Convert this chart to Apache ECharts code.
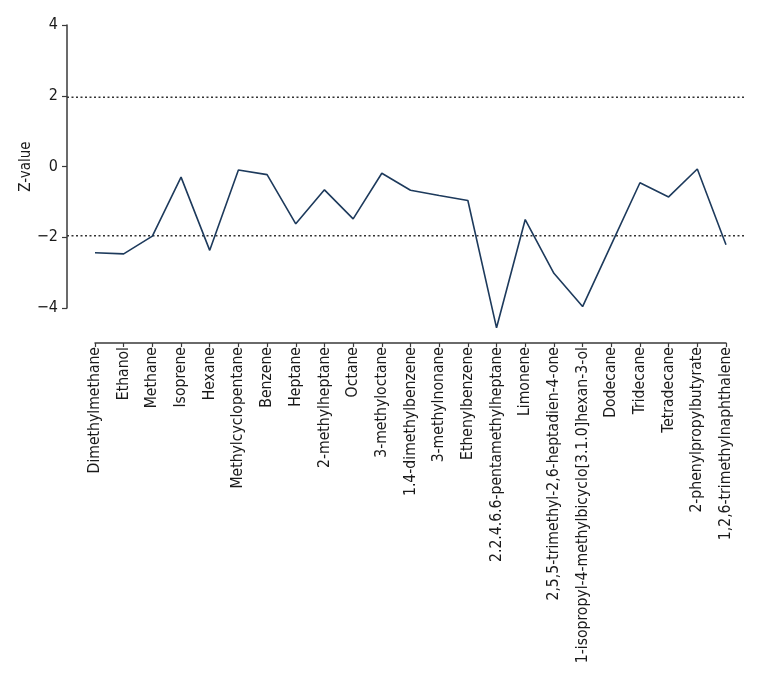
<!DOCTYPE html>
<html>
<head>
<meta charset="utf-8">
<script src="https://cdn.jsdelivr.net/npm/echarts@6/dist/echarts.min.js"></script>
<style>html,body{margin:0;padding:0;background:#fff}#c{width:760px;height:680px}</style>
</head>
<body>
<div id="c"></div>
<script>
const categories = ["Dimethylmethane","Ethanol","Methane","Isoprene","Hexane","Methylcyclopentane","Benzene","Heptane","2-methylheptane","Octane","3-methyloctane","1.4-dimethylbenzene","3-methylnonane","Ethenylbenzene","2.2.4.6.6-pentamethylheptane","Limonene","2,5,5-trimethyl-2,6-heptadien-4-one","1-isopropyl-4-methylbicyclo[3.1.0]hexan-3-ol","Dodecane","Tridecane","Tetradecane","2-phenylpropylbutyrate","1,2,6-trimethylnaphthalene"];
const zValues = [-2.44,-2.47,-1.97,-0.30,-2.37,-0.10,-0.23,-1.62,-0.66,-1.48,-0.19,-0.67,-0.82,-0.96,-4.56,-1.50,-3.02,-3.96,-2.21,-0.46,-0.86,-0.07,-2.21];
const thresholds = [1.96,-1.96];
const yTicks = {min:-4,max:4,interval:2};

const FONT = '"DejaVu Sans Condensed","Liberation Sans Narrow",sans-serif';
const axisColor = '#3a3a3a';
const chart = echarts.init(document.getElementById('c'), null, {renderer:'canvas'});
const thresholdSeries = thresholds.map(t => ({
  type:'line', xAxisIndex:1, yAxisIndex:1, symbol:'none', silent:true,
  data:[[0,t],[1,t]],
  lineStyle:{color:'#333',width:1.5,type:[2,2.5]}
}));
chart.setOption({
  animation:false,
  backgroundColor:'#fff',
  grid:[
    {left:95,right:34,top:25,bottom:372},
    {left:67,right:15,top:25,bottom:372}
  ],
  xAxis:[
    {type:'category',gridIndex:0,data:categories,boundaryGap:false,offset:35,
     axisLine:{onZero:false,lineStyle:{color:axisColor,width:1.5}},
     axisTick:{length:4,lineStyle:{color:axisColor,width:1.2}},
     axisLabel:{rotate:90,interval:0,margin:4,fontFamily:FONT,fontSize:15.6,color:'#1a1a1a'},
     splitLine:{show:false}},
    {type:'value',gridIndex:1,min:0,max:1,show:false}
  ],
  yAxis:[
    {type:'value',gridIndex:0,min:yTicks.min,max:yTicks.max,show:false},
    {type:'value',gridIndex:1,min:yTicks.min,max:yTicks.max,interval:yTicks.interval,
     name:'Z-value',nameLocation:'middle',nameGap:33,nameMoveOverlap:false,
     nameTextStyle:{fontFamily:FONT,fontSize:15,color:'#1a1a1a'},
     axisLine:{show:true,lineStyle:{color:axisColor,width:1.5}},
     axisTick:{show:true,length:5,lineStyle:{color:axisColor,width:1.2}},
     axisLabel:{margin:9,fontFamily:FONT,fontSize:16,color:'#1a1a1a',
       formatter:v=>String(v).replace('-','\u2212')},
     splitLine:{show:false}}
  ],
  series:[
    ...thresholdSeries,
    {type:'line',xAxisIndex:0,yAxisIndex:0,data:zValues,symbol:'none',clip:false,
     lineStyle:{color:'#1d3a5c',width:1.6}}
  ]
});
</script>
</body>
</html>
